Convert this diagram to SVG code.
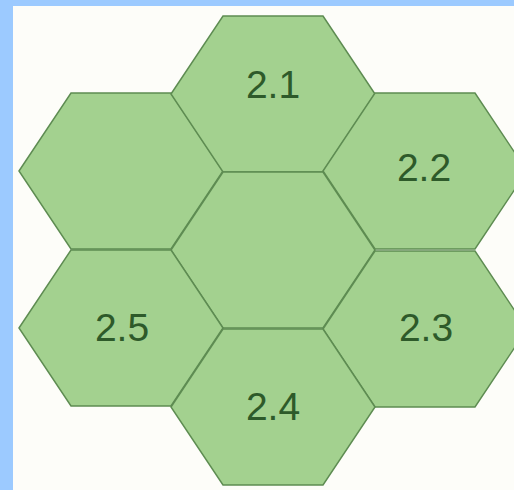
<svg xmlns="http://www.w3.org/2000/svg" width="514" height="490" viewBox="0 0 514 490">
<defs>
<style>
.hex{fill:#a3d18f;stroke:#5e8c52;stroke-width:1.5;stroke-linejoin:miter}
.lbl{font-family:"Liberation Sans",Arial,sans-serif;font-size:39px;fill:#2e5a2a;text-anchor:middle}
</style>
<polygon id="hexshape" class="hex" points="-102,0 -50,-78 50,-78 102,0 50,78 -50,78"/>
</defs>
<rect x="0" y="0" width="514" height="490" fill="#fdfdf9"/>
<rect x="0" y="0" width="514" height="6" fill="#9ccaff"/>
<rect x="0" y="0" width="13" height="490" fill="#9ccaff"/>
<g id="connectors"></g>
<g id="hex-left"><use href="#hexshape" transform="translate(121,171)"/></g>
<g id="hex-2-1"><use href="#hexshape" transform="translate(273,94)"/><text class="lbl" x="273" y="98">2.1</text></g>
<g id="hex-2-2"><use href="#hexshape" transform="translate(425,171)"/><text class="lbl" x="424" y="181">2.2</text></g>
<g id="hex-center"><use href="#hexshape" transform="translate(273,250)"/></g>
<g id="hex-2-5"><use href="#hexshape" transform="translate(121,328)"/><text class="lbl" x="122" y="341">2.5</text></g>
<g id="hex-2-3"><use href="#hexshape" transform="translate(425,329)"/><text class="lbl" x="426" y="341">2.3</text></g>
<g id="hex-2-4"><use href="#hexshape" transform="translate(273,407)"/><text class="lbl" x="273" y="420">2.4</text></g>
</svg>
